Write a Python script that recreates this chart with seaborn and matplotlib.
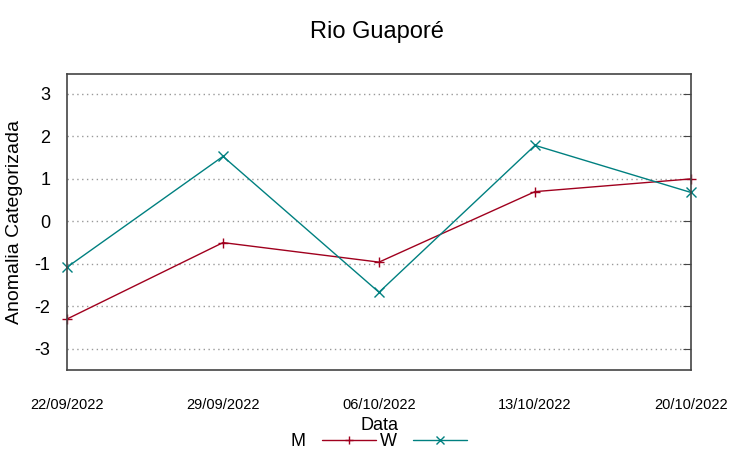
import pandas as pd
import matplotlib.pyplot as plt
import seaborn as sns

# Data
dates = ["22/09/2022", "29/09/2022", "06/10/2022", "13/10/2022", "20/10/2022"]
m_values = [-2.3, -0.5, -0.96, 0.7, 1.0]
w_values = [-1.08, 1.53, -1.67, 1.79, 0.68]

df = pd.DataFrame({
    "pos": list(range(len(dates))) * 2,
    "value": m_values + w_values,
    "serie": ["M"] * len(dates) + ["W"] * len(dates),
})

sns.set_style("white")
plt.rcParams["font.family"] = ["Liberation Sans", "DejaVu Sans"]
plt.rcParams["axes.unicode_minus"] = False
plt.rcParams["text.color"] = "black"
plt.rcParams["axes.labelcolor"] = "black"
plt.rcParams["xtick.color"] = "black"
plt.rcParams["ytick.color"] = "black"

fig = plt.figure(figsize=(7.53, 4.59), dpi=100)
ax = fig.add_axes([67 / 753, 1 - 370 / 459, (691 - 67) / 753, (370 - 74) / 459])

palette = {"M": "#a0001e", "W": "#008080"}
markers = {"M": "+", "W": "x"}
sns.lineplot(data=df, x="pos", y="value", hue="serie", style="serie",
             palette=palette, markers=markers, dashes=False,
             linewidth=1.0, markersize=6.5, markeredgewidth=1.0, ax=ax)
for line in ax.get_lines():
    line.set_markeredgecolor(line.get_color())
    line.set_clip_on(False)

ax.set_xlim(0, len(dates) - 1)
ax.set_ylim(-3.5, 3.47)
ax.set_yticks([-3, -2, -1, 0, 1, 2, 3])
ax.set_xticks(range(len(dates)))
ax.set_xticklabels(dates, fontsize=10.5)
ax.tick_params(axis="x", length=0, pad=20)
ax.tick_params(axis="y", direction="in", length=6, right=True, labelsize=13, pad=12, color="#444444")
ax.yaxis.grid(True, linestyle=(0, (1, 2.5)), color="#999999", linewidth=1.0)
ax.xaxis.grid(False)
for s in ax.spines.values():
    s.set_color("#444444")
    s.set_linewidth(1.2)

ax.set_ylabel("Anomalia Categorizada", fontsize=14, labelpad=8)
ax.set_xlabel("Data", fontsize=13, labelpad=4)
fig.suptitle("Rio Guaporé", fontsize=17, y=0.955)

leg = ax.legend(loc="upper center", bbox_to_anchor=(0.5, -0.19), ncol=2, frameon=False,
                markerfirst=False, fontsize=13, handlelength=3.0, columnspacing=0.2,
                handletextpad=0.9, borderaxespad=0)
for h in leg.legend_handles:
    h.set_markeredgecolor(h.get_color())
    h.set_markersize(5.5)

fig.savefig("out.png", dpi=100)
